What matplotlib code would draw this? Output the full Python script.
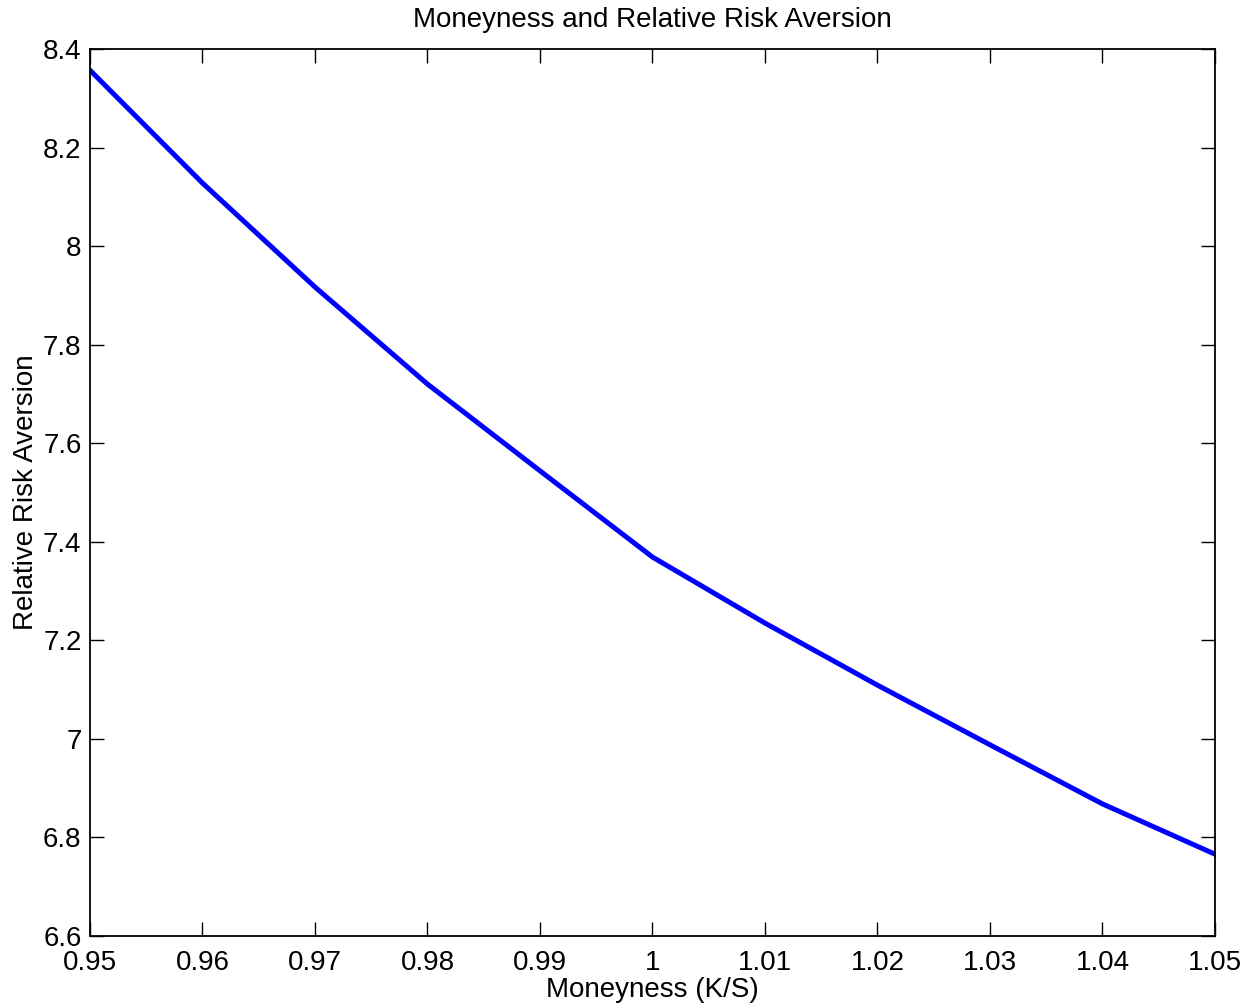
import numpy as np
import matplotlib
matplotlib.use("Agg")
import matplotlib.pyplot as plt

plt.rcParams['font.family'] = ['Liberation Sans', 'DejaVu Sans']

# moneyness grid and the estimated relative risk aversion
moneyness = [0.95, 0.96, 0.97, 0.98, 0.99, 1.00, 1.01, 1.02, 1.03, 1.04, 1.05]
rra = [8.357, 8.128, 7.917, 7.720, 7.544, 7.369, 7.235, 7.109, 6.988, 6.868, 6.766]

xticks = [0.95, 0.96, 0.97, 0.98, 0.99, 1.0, 1.01, 1.02, 1.03, 1.04, 1.05]
xticklabels = ['0.95', '0.96', '0.97', '0.98', '0.99', '1', '1.01', '1.02', '1.03', '1.04', '1.05']
yticks = [6.6, 6.8, 7.0, 7.2, 7.4, 7.6, 7.8, 8.0, 8.2, 8.4]
yticklabels = ['6.6', '6.8', '7', '7.2', '7.4', '7.6', '7.8', '8', '8.2', '8.4']

fs = 20

fig = plt.figure(figsize=(12.51, 10.06), dpi=100)
ax = fig.add_axes([0.0719, 0.0696, 0.8993, 0.8817])

ax.plot(moneyness, rra, color='#0000ff', linewidth=3.6, solid_joinstyle='round')

ax.set_xlim(0.95, 1.05)
ax.set_ylim(6.6, 8.4)
ax.set_xticks(xticks)
ax.set_xticklabels(xticklabels)
ax.set_yticks(yticks)
ax.set_yticklabels(yticklabels)
ax.tick_params(direction='in', length=10, width=1, top=True, right=True,
               labelsize=fs)
ax.tick_params(axis='x', pad=10)
ax.tick_params(axis='y', pad=6)
for s in ax.spines.values():
    s.set_linewidth(1.3)

ax.set_xlabel('Moneyness (K/S)', fontsize=fs, labelpad=1)
ax.set_ylabel('Relative Risk Aversion', fontsize=fs, labelpad=3)
ax.set_title('Moneyness and Relative Risk Aversion', fontsize=fs, pad=16)

fig.savefig('out.png', dpi=100)
